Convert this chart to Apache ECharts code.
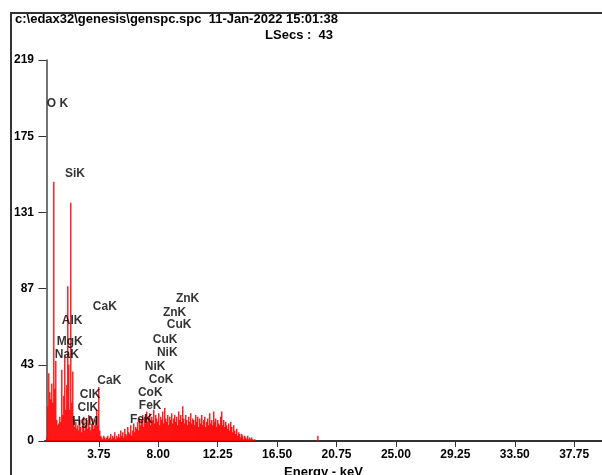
<!DOCTYPE html>
<html>
<head>
<meta charset="utf-8">
<script src="https://cdn.jsdelivr.net/npm/echarts@6/dist/echarts.min.js"></script>
<style>
html,body{margin:0;padding:0;background:#fff;}
#chart{width:602px;height:475px;}
</style>
</head>
<body>
<div id="chart"></div>
<script>
// ---- data ----
const titleLine1 = "c:\\edax32\\genesis\\genspc.spc  11-Jan-2022 15:01:38";
const titleLine2 = "LSecs :  43";
const xAxisName = "Energy - keV";

// spectrum channels: energy of first channel (keV) and channel width (keV)
const channelStart = 0.03;
const channelStep = 0.0715;
const counts = [
  2, 20, 39, 28, 24, 33, 22, 149, 30, 46, 12, 9, 10, 14, 11, 41, 15, 26, 48, 18,
  32, 89, 44, 18, 137, 22, 40, 12, 8, 11, 7, 9, 6, 12, 8, 5, 10, 14, 6, 9,
  12, 7, 15, 8, 6, 10, 13, 7, 9, 12, 18, 9, 31, 6, 3, 2, 1, 3, 2, 1,
  2, 3, 1, 2, 4, 1, 3, 2, 5, 1, 3, 2, 4, 2, 6, 3, 5, 2, 7, 4,
  3, 8, 5, 4, 9, 3, 6, 10, 5, 8, 7, 11, 6, 13, 9, 12, 15, 8, 14, 10,
  17, 11, 13, 16, 9, 14, 12, 18, 10, 15, 13, 11, 16, 9, 14, 12, 17, 10, 19, 13,
  11, 15, 9, 14, 12, 16, 10, 13, 15, 11, 14, 9, 17, 12, 15, 11, 20, 13, 10, 15,
  12, 9, 14, 11, 16, 10, 13, 12, 9, 15, 11, 14, 8, 13, 10, 15, 9, 12, 14, 8,
  11, 13, 9, 16, 10, 12, 9, 17, 11, 13, 8, 12, 10, 9, 14, 17, 9, 12, 8, 11,
  9, 7, 10, 6, 11, 8, 5, 9, 6, 4, 7, 3, 5, 4, 2, 4, 3, 1, 3, 2,
  1, 3, 1, 2, 1, 2, 1, 0, 1, 0
];
// isolated small peak further out
const extraEnergy = [19.42];
const extraCounts = [3];

// peak identification labels: name, energy (keV), count level
const peakNames  = ["O K","SiK","CaK","AlK","MgK","NaK","CaK","ClK","ClK","HgM",
                    "ZnK","ZnK","CuK","CuK","NiK","NiK","CoK","CoK","FeK","FeK"];
const peakLabelE = [0.03, 1.32, 3.32, 1.10, 0.74, 0.60, 3.64, 2.39, 2.22, 1.84,
                    9.26, 8.33, 8.61, 7.61, 7.90, 7.04, 7.32, 6.54, 6.61, 5.97];
const peakLabelC = [193.8, 153.6, 77.4, 69.4, 56.8, 49.9, 34.4, 26.4, 18.9, 10.9,
                    82.0, 73.7, 66.8, 58.2, 51.0, 43.0, 35.5, 27.8, 20.1, 12.3];

const xTickValues = [3.75, 8.00, 12.25, 16.50, 20.75, 25.00, 29.25, 33.50, 37.75];
const yTickValues = [0, 43.8, 87.6, 131.4, 175.2, 219];
const yTickLabels = ["0", "43", "87", "131", "175", "219"];

// ---- build ----
const spectrum = counts.map((c, i) => [channelStart + i * channelStep, c]);
extraEnergy.forEach((e, i) => spectrum.push([e, extraCounts[i]]));
const labelData = peakNames.map((n, i) => ({ name: n, value: [peakLabelE[i], peakLabelC[i]] }));

const FONT = "Liberation Sans, Arial, sans-serif";
const chart = echarts.init(document.getElementById('chart'), null, { renderer: 'canvas' });
chart.setOption({
  animation: false,
  backgroundColor: '#ffffff',
  graphic: [
    { type: 'rect', shape: { x: 11, y: 13, width: 620, height: 500 },
      style: { fill: 'none', stroke: '#333', lineWidth: 2 }, z: 10 },
    { type: 'text', style: { text: titleLine1, x: 15, y: 19, verticalAlign: 'middle', font: 'bold 13px ' + FONT, fill: '#000' } },
    { type: 'text', style: { text: titleLine2, x: 333, y: 35, align: 'right', verticalAlign: 'middle', font: 'bold 13px ' + FONT, fill: '#000' } }
  ],
  grid: { left: 45, right: 0, top: 60, bottom: 34, containLabel: false, outerBoundsMode: 'none' },
  xAxis: {
    type: 'value',
    min: -0.1,
    max: 39.74,
    name: xAxisName,
    nameLocation: 'middle',
    nameGap: 24,
    nameTextStyle: { fontFamily: FONT, fontWeight: 'bold', fontSize: 13, color: '#000' },
    axisLine: { show: true, onZero: false, lineStyle: { color: '#333', width: 2 } },
    axisTick: { show: true, length: 6, customValues: xTickValues, lineStyle: { color: '#333', width: 1 } },
    axisLabel: { customValues: xTickValues, margin: 8, fontFamily: FONT, fontWeight: 'bold', fontSize: 12, color: '#000',
                 formatter: v => Number(v).toFixed(2) },
    splitLine: { show: false }
  },
  yAxis: {
    type: 'value',
    min: 0,
    max: 219,
    axisLine: { show: true, lineStyle: { color: '#444', width: 1.5 } },
    axisTick: { show: true, length: 8, customValues: yTickValues, lineStyle: { color: '#333', width: 1 } },
    axisLabel: { customValues: yTickValues, margin: 11, fontFamily: FONT, fontWeight: 'bold', fontSize: 12, color: '#000',
                 formatter: v => { const k = yTickValues.findIndex(t => Math.abs(t - v) < 1e-6); return k >= 0 ? yTickLabels[k] : ''; } },
    splitLine: { show: false }
  },
  series: [
    {
      type: 'bar',
      data: spectrum,
      barWidth: 1.3,
      itemStyle: { color: '#ff0000' },
      z: 2
    },
    {
      type: 'scatter',
      data: labelData,
      symbolSize: 0.1,
      itemStyle: { color: 'rgba(0,0,0,0)' },
      label: { show: true, position: 'right', distance: 0, formatter: p => p.name,
               fontFamily: FONT, fontWeight: 'bold', fontSize: 12, color: '#000' },
      z: 5
    }
  ]
});
</script>
</body>
</html>
